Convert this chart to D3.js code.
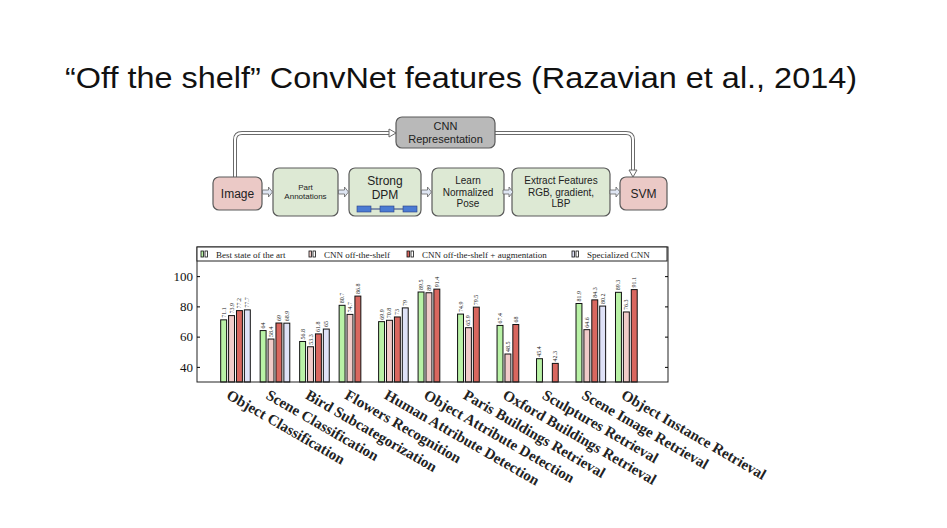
<!DOCTYPE html>
<html>
<head>
<meta charset="utf-8">
<script src="https://cdn.jsdelivr.net/npm/d3@7"></script>
<style>
  body { margin: 0; background: #fff; }
  svg { display: block; }
</style>
</head>
<body>
<div id="slide"></div>
<script>
// chart data
const categories = [
  "Object Classification", "Scene Classification", "Bird Subcategorization",
  "Flowers Recognition", "Human Attribute Detection", "Object Attribute Detection",
  "Paris Buildings Retrieval", "Oxford Buildings Retrieval", "Sculptures Retrieval",
  "Scene Image Retrieval", "Object Instance Retrieval"
];
const seriesNames = ["Best state of the art", "CNN off-the-shelf", "CNN off-the-shelf + augmentation", "Specialized CNN"];
const bestState = [71.1, 64, 56.8, 80.7, 69.9, 89.5, 74.9, 67.4, 45.4, 81.9, 89.3];
const cnnOffShelf = [73.9, 58.4, 53.3, 74.7, 70.8, 89, 65.9, 48.5, null, 64.6, 76.3];
const cnnAugmented = [77.2, 69, 61.8, 86.8, 73, 91.4, 79.5, 68, 42.3, 84.3, 91.1];
const specializedCnn = [77.7, 68.9, 65, null, 79, null, null, null, null, 80.2, null];
const yTicks = [40, 60, 80, 100];

// pipeline diagram
const pipeSteps = ["Part|Annotations", "Strong|DPM", "Learn|Normalized|Pose", "Extract Features|RGB, gradient,|LBP"];

const W = 947, H = 528;
const colors = ["#b9f2a6", "#f1cbc9", "#d9675f", "#dfe2f7"];
const series = [bestState, cnnOffShelf, cnnAugmented, specializedCnn];

const svg = d3.select("#slide").append("svg").attr("width", W).attr("height", H);

// title (the slide is stretched a bit horizontally)
svg.append("text")
  .attr("x", 65).attr("y", 88)
  .attr("textLength", 792).attr("lengthAdjust", "spacingAndGlyphs")
  .style("font-family", "Liberation Sans, Arial, sans-serif")
  .style("font-size", "30px")
  .attr("fill", "#111")
  .text("\u201cOff the shelf\u201d ConvNet features (Razavian et al., 2014)");

// ---------- diagram ----------
const dg = svg.append("g").style("font-family", "Liberation Sans, Arial, sans-serif");

function box(x, y, w, h, fill, lines, size) {
  dg.append("rect").attr("x", x).attr("y", y).attr("width", w).attr("height", h)
    .attr("rx", 6).attr("fill", fill).attr("stroke", "#5a5a5a").attr("stroke-width", 1.2);
  const lh = size * 1.15;
  const y0 = y + h / 2 - (lines.length - 1) * lh / 2;
  lines.forEach((t, i) => {
    dg.append("text").attr("x", x + w / 2).attr("y", y0 + i * lh)
      .attr("text-anchor", "middle").attr("dominant-baseline", "central")
      .style("font-size", size + "px").attr("fill", "#222").text(t);
  });
}

// top connector (hollow double line)
const conn = "M235,177 V140 Q235,133 242,133 H390 M495,133 H626 Q633,133 633,140 V171";
dg.append("path").attr("d", conn).attr("fill", "none").attr("stroke", "#6a6a6a").attr("stroke-width", 4);
dg.append("path").attr("d", conn).attr("fill", "none").attr("stroke", "#fff").attr("stroke-width", 2);
dg.append("path").attr("d", "M389,129 L396,133 L389,137 Z").attr("fill", "#fff").attr("stroke", "#6a6a6a");
dg.append("path").attr("d", "M629,170 L633,177 L637,170 Z").attr("fill", "#fff").attr("stroke", "#6a6a6a");

box(396, 117, 99, 31, "#b9b9b9", ["CNN", "Representation"], 11);
box(213, 177, 49, 33, "#ebc9c6", ["Image"], 12);
box(620, 177, 47, 33, "#ebc9c6", ["SVM"], 12);

const stepX = [273, 349, 432, 512];
const stepW = [65, 72, 72, 98];
const stepSize = [8, 12, 10, 10];
pipeSteps.forEach((s, i) => {
  box(stepX[i], 168, stepW[i], 48, "#dde9d4", s.split("|"), stepSize[i]);
});
// shift DPM text upward a little and add the part boxes
dg.selectAll("text").filter(function () { return this.textContent === "Strong" || this.textContent === "DPM"; })
  .attr("transform", "translate(0,-4)");
[357, 380, 403].forEach(x => {
  dg.append("rect").attr("x", x).attr("y", 206).attr("width", 14).attr("height", 6)
    .attr("fill", "#4b7bd3").attr("stroke", "#2a3f80").attr("stroke-width", 0.6);
});
dg.append("line").attr("x1", 371).attr("x2", 380).attr("y1", 209).attr("y2", 209).attr("stroke", "#2a3f80");
dg.append("line").attr("x1", 394).attr("x2", 403).attr("y1", 209).attr("y2", 209).attr("stroke", "#2a3f80");

// small hollow arrows between boxes
const arrowGaps = [[262, 273], [338, 349], [421, 432], [504, 512], [610, 620]];
arrowGaps.forEach(([a, b]) => {
  const m = (a + b) / 2, cy = 192;
  dg.append("path")
    .attr("d", `M${m - 5},${cy - 2} H${m + 1} V${cy - 5} L${m + 5},${cy} L${m + 1},${cy + 5} V${cy + 2} H${m - 5} Z`)
    .attr("fill", "#dfe6f3").attr("stroke", "#666").attr("stroke-width", 0.8);
});

// ---------- bar chart ----------
const frame = { left: 197, right: 668, top: 261, bottom: 382 };
const x = d3.scaleLinear().domain([-0.6, 11.33]).range([frame.left, frame.right]);
const y = d3.scaleLinear().domain([30, 110]).range([frame.bottom, frame.top]);

const serif = "Liberation Serif, DejaVu Serif, serif";
const cg = svg.append("g");

// bars
const barW = 0.15, barStep = 0.2;
series.forEach((vals, k) => {
  const data = vals.map((v, i) => ({ v, i })).filter(d => d.v !== null);
  cg.selectAll(".b" + k).data(data).enter().append("rect")
    .attr("x", d => x(d.i + k * barStep))
    .attr("y", d => y(d.v))
    .attr("width", x(barW) - x(0))
    .attr("height", d => y(30) - y(d.v))
    .attr("fill", colors[k]).attr("stroke", "#111").attr("stroke-width", 1);
  cg.selectAll(".t" + k).data(data).enter().append("text")
    .attr("transform", d => `translate(${x(d.i + k * barStep + barW / 2) + 2},${y(d.v) - 2}) rotate(-90)`)
    .style("font-family", serif).style("font-size", "6px").attr("fill", "#222")
    .text(d => d.v);
});

// frame
cg.append("rect").attr("x", frame.left).attr("y", frame.top - 14)
  .attr("width", frame.right - frame.left).attr("height", frame.bottom - frame.top + 14)
  .attr("fill", "none").attr("stroke", "#222").attr("stroke-width", 1);

// y axis
const yAxis = cg.append("g").attr("transform", `translate(${frame.left},0)`)
  .call(d3.axisLeft(y).tickValues(yTicks).tickSize(-3).tickPadding(4));
yAxis.select(".domain").remove();
yAxis.selectAll("text").style("font-family", serif).style("font-size", "13px").attr("fill", "#111");
const yAxisR = cg.append("g").attr("transform", `translate(${frame.right},0)`)
  .call(d3.axisRight(y).tickValues(yTicks).tickSize(-3).tickFormat(""));
yAxisR.select(".domain").remove();

// legend
const lg = cg.append("g");
lg.append("rect").attr("x", frame.left).attr("y", 247).attr("width", frame.right - frame.left - 1).attr("height", 14)
  .attr("fill", "#fff").attr("stroke", "#222").attr("stroke-width", 1);
const legX = [201, 309, 407, 572];
seriesNames.forEach((name, k) => {
  lg.append("rect").attr("x", legX[k]).attr("y", 251).attr("width", 2.5).attr("height", 6)
    .attr("fill", colors[k]).attr("stroke", "#111").attr("stroke-width", 0.8);
  lg.append("rect").attr("x", legX[k] + 4).attr("y", 251).attr("width", 2.5).attr("height", 6)
    .attr("fill", "#fff").attr("stroke", "#111").attr("stroke-width", 0.8);
  lg.append("text").attr("x", legX[k] + 15).attr("y", 257.5)
    .style("font-family", serif).style("font-size", "9px").attr("fill", "#222").text(name);
});

// x labels, hanging from each group
cg.selectAll(".xl").data(categories).enter().append("text")
  .attr("transform", (d, i) => `translate(${x(i + 0.12)},${398}) rotate(30)`)
  .style("font-family", serif).style("font-size", "15px").style("font-weight", "bold")
  .attr("fill", "#222")
  .text(d => d);
</script>
</body>
</html>
